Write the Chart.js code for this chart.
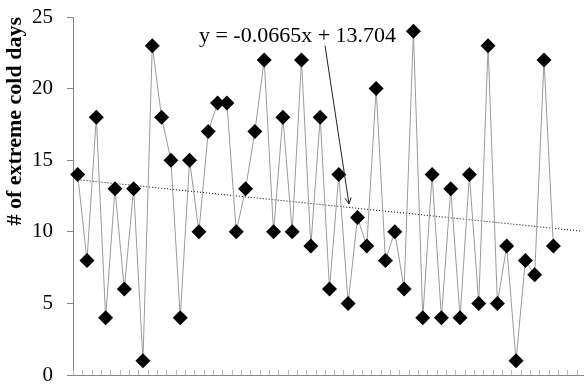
<!DOCTYPE html>
<html><head><meta charset="utf-8">
<script src="https://cdn.jsdelivr.net/npm/chart.js@4/dist/chart.umd.min.js"></script>
<style>html,body{margin:0;padding:0;background:#fff;overflow:hidden;width:584px;height:388px}canvas{display:block}</style>
</head><body>
<canvas id="c" width="586" height="388"></canvas>
<script>
// categories: 52 observed periods + 3 forecast periods for the trend line
const categories = [1,2,3,4,5,6,7,8,9,10,11,12,13,14,15,16,17,18,19,20,21,22,23,24,25,26,27,28,29,30,31,32,33,34,35,36,37,38,39,40,41,42,43,44,45,46,47,48,49,50,51,52,53,54,55];
const coldDays = [14,8,18,4,13,6,13,1,23,18,15,4,15,10,17,19,19,10,13,17,22,10,18,10,22,9,18,6,14,5,11,9,20,8,10,6,24,4,14,4,13,4,14,5,23,5,9,1,8,7,22,9];
const yTicks = [0,5,10,15,20,25];
const trendSlope = -0.0665;
const trendIntercept = 13.704;
const trendLabel = 'y = -0.0665x + 13.704';
const trendStart = 1, trendEnd = 55;
const yTitle = '# of extreme cold days';
// annotation anchors in data units (category index, value)
const labelAnchor = {x: 23.57, y: 23.25};
const arrowFrom = {x: 26.52, y: 23.0};
const arrowTo = {x: 29.09, y: 11.94};

const FONT = '"Liberation Serif", "Times New Roman", serif';

const annotPlugin = {
  id: 'annot',
  afterDatasetsDraw(chart) {
    const {ctx, scales: {x, y}} = chart;
    ctx.save();
    // inside tick marks on the category axis (between categories)
    ctx.strokeStyle = '#b8b8b8';
    ctx.lineWidth = 1;
    ctx.beginPath();
    const base = Math.round(y.getPixelForValue(0));
    for (let i = 0; i <= categories.length; i++) {
      const px = Math.round(x.getPixelForValue(i - 0.5)) + 0.5;
      ctx.moveTo(px, base); ctx.lineTo(px, base - 5);
    }
    ctx.stroke();

    ctx.font = '22px ' + FONT;
    ctx.fillStyle = '#000';
    ctx.textAlign = 'center';
    ctx.textBaseline = 'alphabetic';
    ctx.fillText(trendLabel, x.getPixelForValue(labelAnchor.x), y.getPixelForValue(labelAnchor.y));
    const sx = x.getPixelForValue(arrowFrom.x), sy = y.getPixelForValue(arrowFrom.y);
    const ex = x.getPixelForValue(arrowTo.x), ey = y.getPixelForValue(arrowTo.y);
    ctx.strokeStyle = '#222';
    ctx.beginPath();
    ctx.moveTo(sx, sy); ctx.lineTo(ex, ey);
    const ang = Math.atan2(ey - sy, ex - sx);
    const L = 7, A = 0.45;
    ctx.moveTo(ex - L * Math.cos(ang - A), ey - L * Math.sin(ang - A));
    ctx.lineTo(ex, ey);
    ctx.lineTo(ex - L * Math.cos(ang + A), ey - L * Math.sin(ang + A));
    ctx.stroke();
    ctx.restore();
  }
};

new Chart(document.getElementById('c'), {
  type: 'line',
  data: {
    labels: categories,
    datasets: [
      {
        data: coldDays,
        borderColor: '#9a9a9a',
        borderWidth: 1,
        tension: 0,
        pointStyle: 'rectRot',
        pointRadius: 7.5,
        pointBackgroundColor: '#000',
        pointBorderColor: '#000',
        pointBorderWidth: 0,
        clip: false,
        order: 1
      },
      {
        data: [trendStart, trendEnd].map(v => ({x: v, y: trendSlope * v + trendIntercept})),
        borderColor: '#000',
        borderWidth: 1,
        borderDash: [1, 2],
        pointRadius: 0,
        order: 2
      }
    ]
  },
  options: {
    responsive: false,
    animation: false,
    events: [],
    layout: {autoPadding: false, padding: {top: 17, left: 0, right: 0, bottom: 0}},
    plugins: {legend: {display: false}, tooltip: {enabled: false}},
    scales: {
      x: {
        type: 'category',
        offset: true,
        grid: {offset: true, drawOnChartArea: false, drawTicks: false},
        border: {color: '#888', width: 1},
        ticks: {display: false, autoSkip: false},
        afterFit(s) { s.height = 13; s.paddingLeft = 0; s.paddingRight = 0; }
      },
      y: {
        min: 0, max: 25,
        afterBuildTicks(s) { s.ticks = yTicks.map(v => ({value: v})); },
        ticks: {color: '#000', font: {family: FONT, size: 21}, padding: 14},
        grid: {drawOnChartArea: false, tickLength: 6, color: '#888'},
        border: {color: '#888', width: 1},
        title: {display: true, text: yTitle, align: 'end', color: '#000',
                font: {family: FONT, size: 22, weight: 'bold'}, padding: {top: 2, bottom: 0}},
        afterFit(s) { s.width = 73; s.paddingTop = 0; s.paddingBottom = 0; }
      }
    }
  },
  plugins: [annotPlugin]
});
</script>
</body></html>
